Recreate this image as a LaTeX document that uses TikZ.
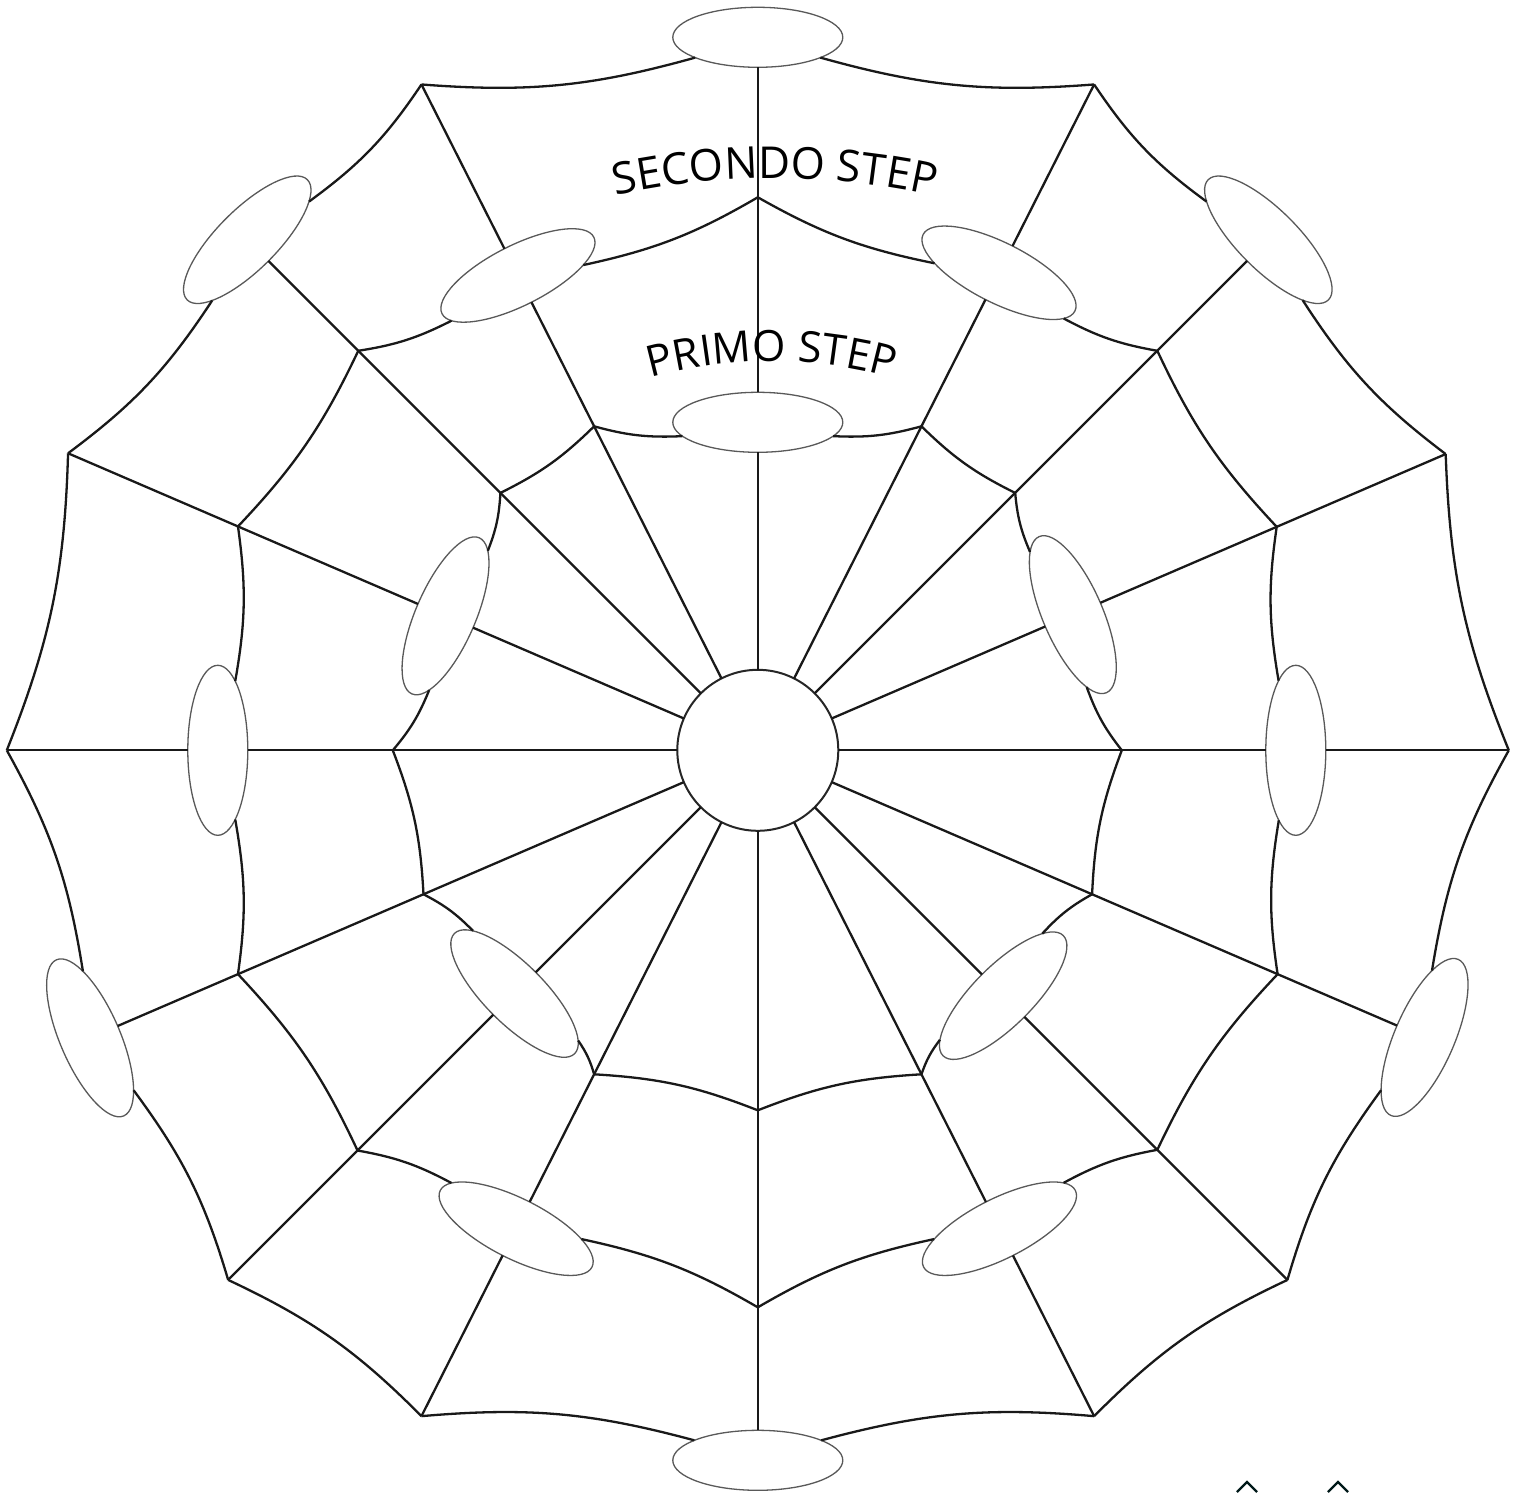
\documentclass[tikz,border=0pt]{standalone}
\usepackage{fontspec}
\setmainfont{Open Sans}
\usetikzlibrary{shapes.geometric,decorations.text}
\begin{document}
\begin{tikzpicture}[x=1pt,y=1pt,
  web/.style={line width=2.3pt, draw=black!90},
  wellip/.style={shape=ellipse, draw=black!65, line width=1.3pt, fill=white,
    minimum width=170pt, minimum height=60pt, inner sep=0pt, outer sep=0pt},
  wvert/.style={shape=coordinate},
  hub/.style={shape=circle, draw=black!85, line width=2pt, fill=white,
    minimum size=161pt, inner sep=0pt, outer sep=0pt},
  chev/.style={line width=2.4pt, draw=black!80!teal}]
\useasboundingbox (-757.8,-741.7) rectangle (756.2,750.3);

\node[hub] (c) at (0,0) {};

\foreach \k/\a/\typI/\radI/\typM/\radM/\typO/\radO in {
  0/0/wvert/364/wellip/538/wvert/751,
  1/23.3/wellip/343/wvert/565/wvert/749,
  2/45/wvert/364/wvert/565/wellip/722,
  3/63.2/wvert/363/wellip/535/wvert/746,
  4/90/wellip/328/wvert/553/wellip/713,
  5/116.8/wvert/363/wellip/532/wvert/746,
  6/135/wvert/364/wvert/565/wellip/722,
  7/156.7/wellip/340/wvert/566/wvert/751,
  8/180/wvert/365/wellip/540/wvert/751,
  9/203.3/wvert/364/wvert/566/wellip/727,
  10/225/wellip/344/wvert/566/wvert/749,
  11/243.2/wvert/363/wellip/536/wvert/746,
  12/270/wvert/360/wvert/557/wellip/710,
  13/296.8/wvert/363/wellip/536/wvert/746,
  14/315/wellip/347/wvert/565/wvert/749,
  15/336.7/wvert/364/wvert/566/wellip/726}{
  \node[\typI, rotate=\a+90] (i\k) at (\a:\radI) {};
  \node[\typM, rotate=\a+90] (m\k) at (\a:\radM) {};
  \node[\typO, rotate=\a+90] (o\k) at (\a:\radO) {};
}

% spokes
\foreach \k in {0,...,15}{
  \draw[web] (c) -- (i\k) -- (m\k) -- (o\k);
}

% rings
\foreach \k in {0,...,15}{
  \pgfmathtruncatemacro\nx{mod(\k+1,16)}
  \draw[web] (i\k) to[bend left=9] (i\nx);
  \draw[web] (m\k) to[bend left=9] (m\nx);
  \draw[web] (o\k) to[bend left=10] (o\nx);
}

% labels
\path[decorate, decoration={text along path, text align=center,
  text={|\fontsize{44}{52}\selectfont|SECONDO STEP}}]
  (17,-168) ++(110:740) arc[start angle=110, end angle=70, radius=740];
\path[decorate, decoration={text along path, text align=center,
  text={|\fontsize{43}{50}\selectfont|PRIMO STEP}}]
  (14,-61) ++(115:450) arc[start angle=115, end angle=65, radius=450];

% partial marks at the bottom edge
\draw[chev] (479.2,-741.7) -- (489.2,-731.7) -- (499.2,-741.7);
\draw[chev] (570.2,-741.7) -- (580.2,-731.7) -- (590.2,-741.7);
\end{tikzpicture}
\end{document}
